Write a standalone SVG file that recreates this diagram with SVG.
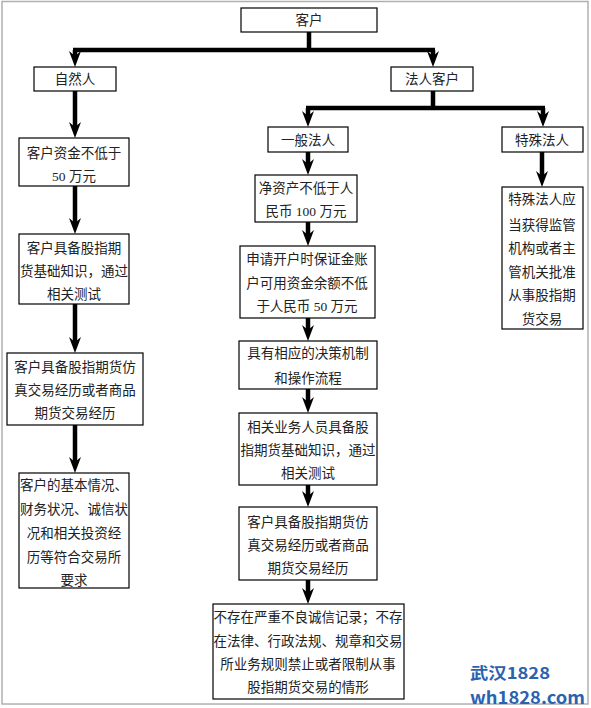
<svg xmlns="http://www.w3.org/2000/svg" width="591" height="708" viewBox="0 0 591 708">
<defs>
<path id="ah" d="M0,0 L-6,-16 L0,-11 L6,-16 Z" fill="#000"/>
<style>
.box{fill:#fff;stroke:#000;stroke-width:1.2}
.t{font-family:"Liberation Serif","Noto Sans CJK SC",serif;font-size:13.5px;fill:#222;text-anchor:middle;dominant-baseline:central}
.c{fill:none;stroke:#000;stroke-width:4.5}
.wm{font-family:"Noto Sans CJK SC","Liberation Sans",sans-serif;font-weight:bold;fill:#2a62b0}
</style>
</defs>
<rect x="0" y="0" width="591" height="708" fill="#fff"/>
<rect x="2" y="1.5" width="586" height="702.5" fill="none" stroke="#b0b0b0" stroke-width="1.5"/>
<g id="connectors">
<polyline class="c" points="309,32 309,50"/>
<polyline class="c" points="73,50 435,50"/>
<line class="c" x1="75" y1="50" x2="75" y2="58"/><use href="#ah" x="75" y="67"/>
<line class="c" x1="433" y1="50" x2="433" y2="58"/><use href="#ah" x="433" y="67"/>
<line class="c" x1="75" y1="91" x2="75" y2="128"/><use href="#ah" x="75" y="138"/>
<line class="c" x1="75" y1="186" x2="75" y2="224"/><use href="#ah" x="75" y="234"/>
<line class="c" x1="75" y1="304" x2="75" y2="343"/><use href="#ah" x="75" y="353"/>
<line class="c" x1="75" y1="425" x2="75" y2="463"/><use href="#ah" x="75" y="473"/>
<polyline class="c" points="433,91 433,108"/>
<polyline class="c" points="306,108 545,108"/>
<line class="c" x1="308" y1="108" x2="308" y2="117"/><use href="#ah" x="308" y="127"/>
<line class="c" x1="543" y1="108" x2="543" y2="117"/><use href="#ah" x="543" y="127"/>
<line class="c" x1="308" y1="152" x2="308" y2="165"/><use href="#ah" x="308" y="175"/>
<line class="c" x1="308" y1="222" x2="308" y2="236"/><use href="#ah" x="308" y="246"/>
<line class="c" x1="308" y1="318" x2="308" y2="331"/><use href="#ah" x="308" y="341"/>
<line class="c" x1="308" y1="389" x2="308" y2="403"/><use href="#ah" x="308" y="413"/>
<line class="c" x1="308" y1="485" x2="308" y2="497"/><use href="#ah" x="308" y="507"/>
<line class="c" x1="308" y1="580" x2="308" y2="594"/><use href="#ah" x="308" y="604"/>
<line class="c" x1="542" y1="152" x2="542" y2="177"/><use href="#ah" x="542" y="187"/>
</g>
<g id="n-kehu"><rect class="box" x="241" y="8" width="136" height="24"/><text class="t" x="309" y="20">客户</text></g>
<g id="n-ziranren"><rect class="box" x="34" y="67" width="82" height="24"/><text class="t" x="75" y="79">自然人</text></g>
<g id="n-farenkehu"><rect class="box" x="391" y="67" width="82" height="24"/><text class="t" x="432" y="79">法人客户</text></g>
<g id="n-yibanfaren"><rect class="box" x="268" y="127" width="80" height="25"/><text class="t" x="308" y="140">一般法人</text></g>
<g id="n-teshufaren"><rect class="box" x="502" y="127" width="81" height="25"/><text class="t" x="542" y="140">特殊法人</text></g>
<g id="n-l1"><rect class="box" x="19" y="138" width="110" height="48"/><text class="t" x="74" y="153">客户资金不低于</text><text class="t" x="74" y="176">50 万元</text></g>
<g id="n-l2"><rect class="box" x="19" y="234" width="110" height="70"/><text class="t" x="74" y="248">客户具备股指期</text><text class="t" x="74" y="271">货基础知识，通过</text><text class="t" x="74" y="294">相关测试</text></g>
<g id="n-l3"><rect class="box" x="7" y="353" width="136" height="72"/><text class="t" x="75" y="367">客户具备股指期货仿</text><text class="t" x="75" y="390">真交易经历或者商品</text><text class="t" x="75" y="413">期货交易经历</text></g>
<g id="n-l4"><rect class="box" x="19" y="473" width="110" height="115"/><text class="t" x="74" y="485">客户的基本情况、</text><text class="t" x="74" y="509">财务状况、诚信状</text><text class="t" x="74" y="533">况和相关投资经</text><text class="t" x="74" y="557">历等符合交易所</text><text class="t" x="74" y="580">要求</text></g>
<g id="n-m1"><rect class="box" x="255" y="175" width="102" height="47"/><text class="t" x="306" y="188">净资产不低于人</text><text class="t" x="306" y="211">民币 100 万元</text></g>
<g id="n-m2"><rect class="box" x="240" y="246" width="135" height="72"/><text class="t" x="307" y="259">申请开户时保证金账</text><text class="t" x="307" y="283">户可用资金余额不低</text><text class="t" x="307" y="306">于人民币 50 万元</text></g>
<g id="n-m3"><rect class="box" x="239" y="341" width="138" height="48"/><text class="t" x="308" y="353">具有相应的决策机制</text><text class="t" x="308" y="378">和操作流程</text></g>
<g id="n-m4"><rect class="box" x="239" y="413" width="138" height="72"/><text class="t" x="308" y="427">相关业务人员具备股</text><text class="t" x="308" y="450">指期货基础知识，通过</text><text class="t" x="308" y="473">相关测试</text></g>
<g id="n-m5"><rect class="box" x="239" y="507" width="138" height="73"/><text class="t" x="308" y="522">客户具备股指期货仿</text><text class="t" x="308" y="545">真交易经历或者商品</text><text class="t" x="308" y="568">期货交易经历</text></g>
<g id="n-m6"><rect class="box" x="213" y="604" width="191" height="95"/><text class="t" x="308" y="617">不存在严重不良诚信记录；不存</text><text class="t" x="308" y="641">在法律、行政法规、规章和交易</text><text class="t" x="308" y="664">所业务规则禁止或者限制从事</text><text class="t" x="308" y="687">股指期货交易的情形</text></g>
<g id="n-r1"><rect class="box" x="502" y="187" width="81" height="142"/><text class="t" x="542" y="199">特殊法人应</text><text class="t" x="542" y="225">当获得监管</text><text class="t" x="542" y="248">机构或者主</text><text class="t" x="542" y="272">管机关批准</text><text class="t" x="542" y="295">从事股指期</text><text class="t" x="542" y="319">货交易</text></g>
<g id="watermark"><text class="wm" x="470" y="679" font-size="16" textLength="80" lengthAdjust="spacingAndGlyphs">武汉1828</text><text class="wm" x="470" y="704" font-size="17" textLength="115" lengthAdjust="spacingAndGlyphs">wh1828.com</text></g>
</svg>
